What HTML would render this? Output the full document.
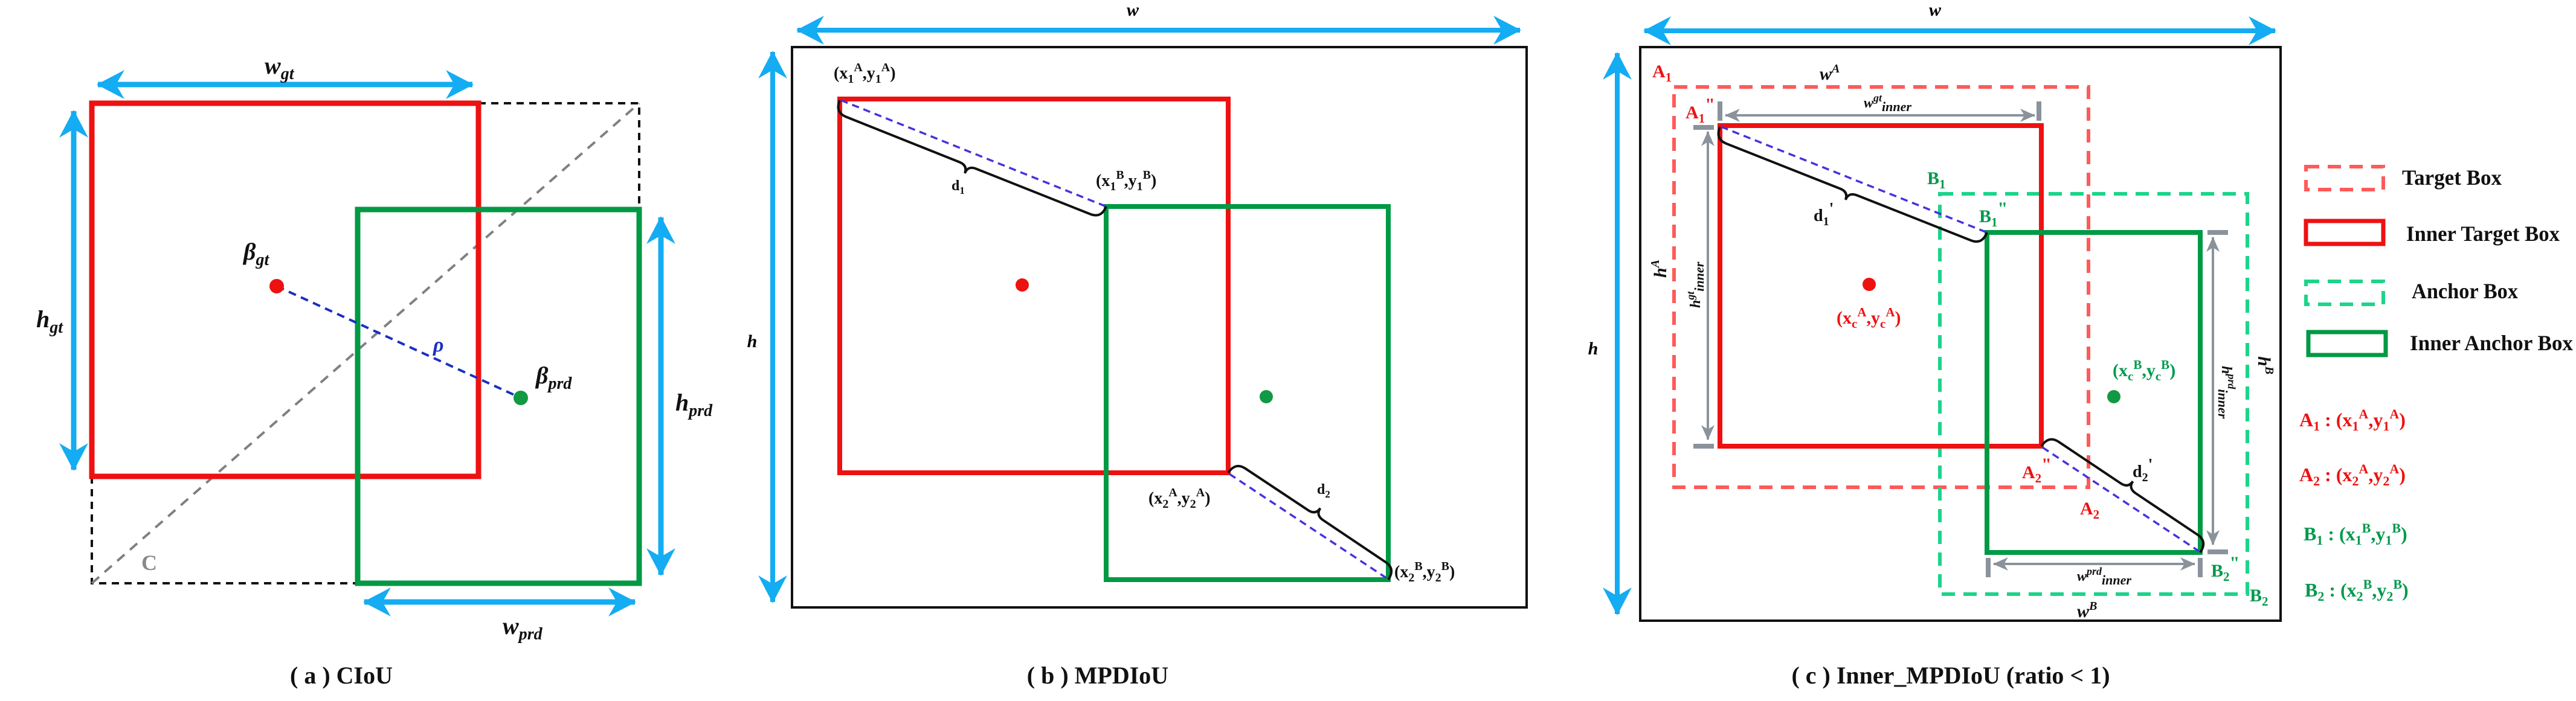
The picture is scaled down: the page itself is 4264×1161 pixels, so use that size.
<!DOCTYPE html>
<html><head><meta charset="utf-8"><style>
html,body{margin:0;padding:0;background:#fff}
svg{display:block}
text{font-family:"Liberation Serif",serif;font-weight:bold}
</style></head><body>
<svg width="4264" height="1161" viewBox="0 0 4264 1161" xmlns="http://www.w3.org/2000/svg">
<defs>
<marker id="ba" markerUnits="userSpaceOnUse" viewBox="-50 -30 60 60" markerWidth="60" markerHeight="60" refX="0" refY="0" orient="auto-start-reverse">
<path d="M2,0 L-44,-24 L-30,0 L-44,24 Z" fill="#14acf2"/></marker>
<marker id="ga" markerUnits="userSpaceOnUse" viewBox="-30 -15 34 30" markerWidth="34" markerHeight="30" refX="0" refY="0" orient="auto-start-reverse">
<path d="M1,0 L-24,-11 L-17,0 L-24,11 Z" fill="#8a939b"/></marker>
</defs>

<!-- ===== Panel A ===== -->
<g fill="none">
<path d="M792,171 H1058 V347 M152,789 V966 H592" stroke="#111" stroke-width="4" stroke-dasharray="12 9"/>
<line x1="152" y1="966" x2="1058" y2="171" stroke="#808080" stroke-width="4" stroke-dasharray="16 12"/>
<rect x="152" y="171" width="640" height="618" stroke="#ee1111" stroke-width="9"/>
<rect x="592" y="347" width="466" height="619" stroke="#009944" stroke-width="9"/>
<line x1="458" y1="474" x2="862" y2="659" stroke="#1a2fc0" stroke-width="4" stroke-dasharray="13 9"/>
<line x1="162" y1="140" x2="782" y2="140" stroke="#14acf2" stroke-width="9" marker-start="url(#ba)" marker-end="url(#ba)"/>
<line x1="122" y1="184" x2="122" y2="778" stroke="#14acf2" stroke-width="9" marker-start="url(#ba)" marker-end="url(#ba)"/>
<line x1="1094" y1="360" x2="1094" y2="952" stroke="#14acf2" stroke-width="9" marker-start="url(#ba)" marker-end="url(#ba)"/>
<line x1="603" y1="997" x2="1051" y2="997" stroke="#14acf2" stroke-width="9" marker-start="url(#ba)" marker-end="url(#ba)"/>
</g>
<circle cx="458" cy="474" r="12" fill="#ee1111"/>
<circle cx="862" cy="659" r="12" fill="#119944"/>
<g font-style="italic" font-size="40" fill="#111">
<text x="438" y="122">w<tspan dy="9" font-size="28">gt</tspan></text>
<text x="60" y="542">h<tspan dy="9" font-size="28">gt</tspan></text>
<text x="1118" y="680">h<tspan dy="9" font-size="28">prd</tspan></text>
<text x="832" y="1050">w<tspan dy="9" font-size="28">prd</tspan></text>
<text x="403" y="430">β<tspan dy="9" font-size="28">gt</tspan></text>
<text x="887" y="635">β<tspan dy="9" font-size="28">prd</tspan></text>
<text x="717" y="582" fill="#1a2fc0" font-size="34">ρ</text>
</g>
<text x="234" y="944" font-size="36" fill="#888" font-weight="bold">C</text>
<text x="565" y="1132" font-size="40" text-anchor="middle" fill="#111">( a )  CIoU</text>

<!-- ===== Panel B ===== -->
<g fill="none">
<rect x="1311" y="78" width="1216" height="928" stroke="#111" stroke-width="4"/>
<line x1="1320" y1="50" x2="2516" y2="50" stroke="#14acf2" stroke-width="8" marker-start="url(#ba)" marker-end="url(#ba)"/>
<line x1="1279" y1="86" x2="1279" y2="997" stroke="#14acf2" stroke-width="8" marker-start="url(#ba)" marker-end="url(#ba)"/>
<rect x="1390" y="164" width="643" height="619" stroke="#ee1111" stroke-width="8"/>
<rect x="1831" y="342" width="467" height="618" stroke="#009944" stroke-width="8"/>
<line x1="1392" y1="166" x2="1831" y2="342" stroke="#4433dd" stroke-width="3.5" stroke-dasharray="12 8"/>
<line x1="2035" y1="785" x2="2296" y2="958" stroke="#4433dd" stroke-width="3.5" stroke-dasharray="12 8"/>
<path d="M1390,166 Q1382,186 1400.5,193.5 L1588,268.4 Q1602,274 1597,287 Q1602,274 1616,279.6 L1804.5,354.5 Q1823,362 1831,342" stroke="#111" stroke-width="4"/>
<path d="M2033,783 Q2045,765 2061.6,776.1 L2165.2,844.9 Q2177.7,853.2 2185.5,841.6 Q2177.7,853.2 2190.2,861.5 L2293.4,930.9 Q2310,942 2298,960" stroke="#111" stroke-width="4"/>
</g>
<circle cx="1692" cy="472" r="11" fill="#ee1111"/>
<circle cx="2096" cy="657" r="11" fill="#119944"/>
<text x="1875" y="26" font-size="30" font-style="italic" text-anchor="middle">w</text>
<text x="1245" y="575" font-size="30" font-style="italic" text-anchor="middle">h</text>
<g font-size="28" fill="#111">
<text x="1380" y="130">(x<tspan dy="7" font-size="20">1</tspan><tspan dy="-19" font-size="20">A</tspan><tspan dy="12">,y</tspan><tspan dy="7" font-size="20">1</tspan><tspan dy="-19" font-size="20">A</tspan><tspan dy="12">)</tspan></text>
<text x="1814" y="308">(x<tspan dy="7" font-size="20">1</tspan><tspan dy="-19" font-size="20">B</tspan><tspan dy="12">,y</tspan><tspan dy="7" font-size="20">1</tspan><tspan dy="-19" font-size="20">B</tspan><tspan dy="12">)</tspan></text>
<text x="1901" y="834">(x<tspan dy="7" font-size="20">2</tspan><tspan dy="-19" font-size="20">A</tspan><tspan dy="12">,y</tspan><tspan dy="7" font-size="20">2</tspan><tspan dy="-19" font-size="20">A</tspan><tspan dy="12">)</tspan></text>
<text x="2308" y="956">(x<tspan dy="7" font-size="20">2</tspan><tspan dy="-19" font-size="20">B</tspan><tspan dy="12">,y</tspan><tspan dy="7" font-size="20">2</tspan><tspan dy="-19" font-size="20">B</tspan><tspan dy="12">)</tspan></text>
<text x="1575" y="315" font-size="24">d<tspan dy="6" font-size="17">1</tspan></text>
<text x="2180" y="818" font-size="24">d<tspan dy="6" font-size="17">2</tspan></text>
</g>
<text x="1817" y="1132" font-size="40" text-anchor="middle" fill="#111">( b )  MPDIoU</text>

<!-- ===== Panel C ===== -->
<g fill="none">
<rect x="2715" y="78" width="1060" height="950" stroke="#111" stroke-width="4"/>
<line x1="2722" y1="51" x2="3766" y2="51" stroke="#14acf2" stroke-width="8" marker-start="url(#ba)" marker-end="url(#ba)"/>
<line x1="2677" y1="88" x2="2677" y2="1017" stroke="#14acf2" stroke-width="8" marker-start="url(#ba)" marker-end="url(#ba)"/>
<rect x="2771" y="144" width="686" height="663" stroke="#ff5a5a" stroke-width="6" stroke-dasharray="22 14"/>
<rect x="3211" y="321" width="509" height="663" stroke="#1dd48a" stroke-width="6" stroke-dasharray="22 14"/>
<rect x="2847" y="208" width="532" height="531" stroke="#ee1111" stroke-width="8"/>
<rect x="3289" y="385" width="353" height="530" stroke="#009944" stroke-width="8"/>
<line x1="2849" y1="210" x2="3289" y2="385" stroke="#4433dd" stroke-width="3.5" stroke-dasharray="12 8"/>
<line x1="3381" y1="741" x2="3640" y2="913" stroke="#4433dd" stroke-width="3.5" stroke-dasharray="12 8"/>
<path d="M2847,210 Q2839,230.5 2857.6,237.9 L3046,312.5 Q3059.9,318 3054.8,331 Q3059.9,318 3073.9,323.5 L3262.4,398.1 Q3281,405.5 3289,385" stroke="#111" stroke-width="4"/>
<path d="M3379,739 Q3391.2,720.7 3407.8,731.8 L3510.2,800.4 Q3522.7,808.7 3530.5,797.1 Q3522.7,808.7 3535.2,817 L3637.6,885.6 Q3654.2,896.7 3642,915" stroke="#111" stroke-width="4"/>
<!-- gray ticks -->
<g stroke="#8a939b" stroke-width="8">
<line x1="2847" y1="168" x2="2847" y2="200"/><line x1="3375" y1="168" x2="3375" y2="200"/>
<line x1="2803" y1="211" x2="2837" y2="211"/><line x1="2803" y1="739" x2="2837" y2="739"/>
<line x1="3654" y1="385" x2="3688" y2="385"/><line x1="3654" y1="914" x2="3688" y2="914"/>
<line x1="3291" y1="924" x2="3291" y2="956"/><line x1="3642" y1="924" x2="3642" y2="956"/>
</g>
<g stroke="#8a939b" stroke-width="4">
<line x1="2856" y1="191" x2="3368" y2="191" marker-start="url(#ga)" marker-end="url(#ga)"/>
<line x1="2827" y1="218" x2="2827" y2="728" marker-start="url(#ga)" marker-end="url(#ga)"/>
<line x1="3663" y1="393" x2="3663" y2="902" marker-start="url(#ga)" marker-end="url(#ga)"/>
<line x1="3300" y1="934" x2="3633" y2="934" marker-start="url(#ga)" marker-end="url(#ga)"/>
</g>
<!-- legend boxes -->
<rect x="3817" y="276" width="128" height="38" stroke="#ff5a5a" stroke-width="6" stroke-dasharray="22 14"/>
<rect x="3817" y="366" width="128" height="38" stroke="#ee1111" stroke-width="7"/>
<rect x="3817" y="466" width="128" height="38" stroke="#1dd48a" stroke-width="6" stroke-dasharray="22 14"/>
<rect x="3821" y="550" width="128" height="38" stroke="#009944" stroke-width="7"/>
</g>
<circle cx="3094" cy="471" r="11" fill="#ee1111"/>
<circle cx="3499" cy="657" r="11" fill="#119944"/>
<text x="3203" y="26" font-size="30" font-style="italic" text-anchor="middle">w</text>
<text x="2637" y="587" font-size="30" font-style="italic" text-anchor="middle">h</text>
<g font-size="30" fill="#111" font-style="italic">
<text x="3012" y="132">w<tspan dy="-12" font-size="20">A</tspan></text>
<text x="3085" y="178" font-size="24">w<tspan dy="-10" font-size="18">gt</tspan><tspan dy="16" font-size="22">inner</tspan></text>
<text transform="translate(2758,460) rotate(-90)">h<tspan dy="-12" font-size="20">A</tspan></text>
<text transform="translate(2814,510) rotate(-90)" font-size="24">h<tspan dy="-10" font-size="18">gt</tspan><tspan dy="16" font-size="22">inner</tspan></text>
<text transform="translate(3738,590) rotate(90)">h<tspan dy="-12" font-size="20">B</tspan></text>
<text transform="translate(3678,606) rotate(90)" font-size="24">h<tspan dy="-10" font-size="18">prd</tspan><tspan dy="16" font-size="22">inner</tspan></text>
<text x="3438" y="962" font-size="24">w<tspan dy="-10" font-size="18">prd</tspan><tspan dy="16" font-size="22">inner</tspan></text>
<text x="3438" y="1022">w<tspan dy="-12" font-size="20">B</tspan></text>
</g>
<g font-size="30" fill="#ee1111">
<text x="2735" y="128">A<tspan dy="7" font-size="21">1</tspan></text>
<text x="2790" y="196">A<tspan dy="7" font-size="21">1</tspan><tspan dy="-20">"</tspan></text>
<text x="3347" y="792">A<tspan dy="7" font-size="21">2</tspan><tspan dy="-20">"</tspan></text>
<text x="3443" y="852">A<tspan dy="7" font-size="21">2</tspan></text>
<text x="3040" y="536">(x<tspan dy="7" font-size="21">c</tspan><tspan dy="-19" font-size="21">A</tspan><tspan dy="12">,y</tspan><tspan dy="7" font-size="21">c</tspan><tspan dy="-19" font-size="21">A</tspan><tspan dy="12">)</tspan></text>
</g>
<g font-size="30" fill="#00994c">
<text x="3190" y="305">B<tspan dy="7" font-size="21">1</tspan></text>
<text x="3276" y="368">B<tspan dy="7" font-size="21">1</tspan><tspan dy="-20">"</tspan></text>
<text x="3660" y="955">B<tspan dy="7" font-size="21">2</tspan><tspan dy="-20">"</tspan></text>
<text x="3724" y="996">B<tspan dy="7" font-size="21">2</tspan></text>
<text x="3497" y="623">(x<tspan dy="7" font-size="21">c</tspan><tspan dy="-19" font-size="21">B</tspan><tspan dy="12">,y</tspan><tspan dy="7" font-size="21">c</tspan><tspan dy="-19" font-size="21">B</tspan><tspan dy="12">)</tspan></text>
</g>
<g font-size="28" fill="#111">
<text x="3002" y="366">d<tspan dy="7" font-size="20">1</tspan><tspan dy="-18">'</tspan></text>
<text x="3530" y="790">d<tspan dy="7" font-size="20">2</tspan><tspan dy="-18">'</tspan></text>
</g>
<g font-size="36" fill="#111">
<text x="3976" y="306" textLength="165" lengthAdjust="spacingAndGlyphs">Target Box</text>
<text x="3983" y="399" textLength="254" lengthAdjust="spacingAndGlyphs">Inner Target Box</text>
<text x="3992" y="494" textLength="176" lengthAdjust="spacingAndGlyphs">Anchor Box</text>
<text x="3989" y="580" textLength="270" lengthAdjust="spacingAndGlyphs">Inner Anchor Box</text>
</g>
<g font-size="32">
<text x="3806" y="706" fill="#ee1111">A<tspan dy="7" font-size="22">1</tspan><tspan dy="-7">  : (x</tspan><tspan dy="7" font-size="22">1</tspan><tspan dy="-20" font-size="22">A</tspan><tspan dy="13">,y</tspan><tspan dy="7" font-size="22">1</tspan><tspan dy="-20" font-size="22">A</tspan><tspan dy="13">)</tspan></text>
<text x="3806" y="797" fill="#ee1111">A<tspan dy="7" font-size="22">2</tspan><tspan dy="-7"> : (x</tspan><tspan dy="7" font-size="22">2</tspan><tspan dy="-20" font-size="22">A</tspan><tspan dy="13">,y</tspan><tspan dy="7" font-size="22">2</tspan><tspan dy="-20" font-size="22">A</tspan><tspan dy="13">)</tspan></text>
<text x="3813" y="895" fill="#00994c">B<tspan dy="7" font-size="22">1</tspan><tspan dy="-7">  : (x</tspan><tspan dy="7" font-size="22">1</tspan><tspan dy="-20" font-size="22">B</tspan><tspan dy="13">,y</tspan><tspan dy="7" font-size="22">1</tspan><tspan dy="-20" font-size="22">B</tspan><tspan dy="13">)</tspan></text>
<text x="3815" y="988" fill="#00994c">B<tspan dy="7" font-size="22">2</tspan><tspan dy="-7">  : (x</tspan><tspan dy="7" font-size="22">2</tspan><tspan dy="-20" font-size="22">B</tspan><tspan dy="13">,y</tspan><tspan dy="7" font-size="22">2</tspan><tspan dy="-20" font-size="22">B</tspan><tspan dy="13">)</tspan></text>
</g>
<text x="3229" y="1132" font-size="40" text-anchor="middle" fill="#111">( c )  Inner_MPDIoU  (ratio &lt; 1)</text>
</svg>
</body></html>
